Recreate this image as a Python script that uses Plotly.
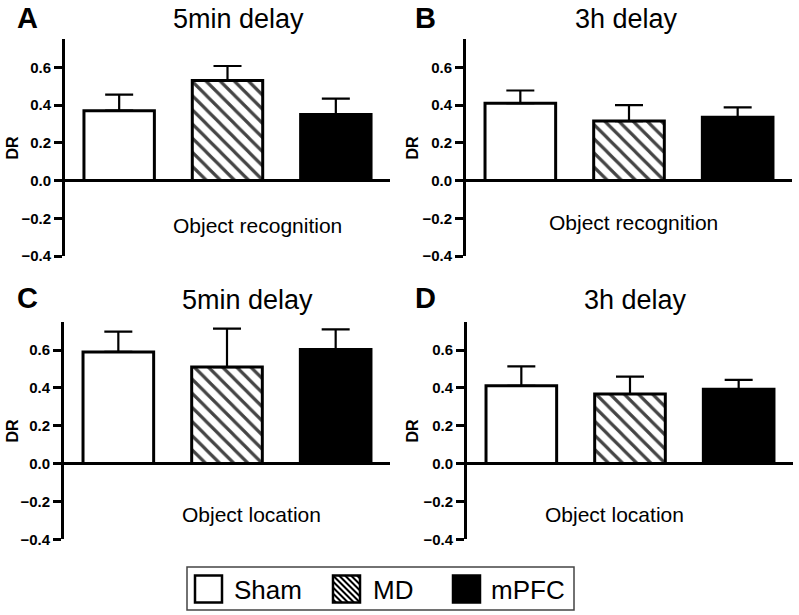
import plotly.graph_objects as go

W, H = 799, 615

groups = ["Sham", "MD", "mPFC"]
panel_letters = ["A", "B", "C", "D"]
panel_titles = ["5min delay", "3h delay", "5min delay", "3h delay"]
panel_tasks = ["Object recognition", "Object recognition", "Object location", "Object location"]

mean_A = [0.37, 0.53, 0.35]
sem_A = [0.085, 0.077, 0.084]
mean_B = [0.41, 0.315, 0.335]
sem_B = [0.067, 0.085, 0.053]
mean_C = [0.59, 0.51, 0.603]
sem_C = [0.108, 0.203, 0.106]
mean_D = [0.411, 0.368, 0.393]
sem_D = [0.103, 0.092, 0.05]

y_ticks = [-0.4, -0.2, 0.0, 0.2, 0.4, 0.6]
y_range = [-0.4, 0.75]

means = [mean_A, mean_B, mean_C, mean_D]
sems = [sem_A, sem_B, sem_C, sem_D]

bar_colors = ["white", "white", "black"]
bar_patterns = ["", "\\", ""]

FONT = "Arial, 'Liberation Sans', Helvetica, sans-serif"

def px(x):
    return x / W

def py(y):
    return 1 - y / H

# panel geometry in page pixels: (x0, x1, ytop, ybottom)
geom = [
    (65, 390, 39, 256),
    (466, 792, 39, 256),
    (64, 390, 321.7, 539.3),
    (467, 793, 321.7, 539.3),
]

fig = go.Figure()
layout = dict(
    width=W, height=H,
    margin=dict(l=0, r=0, t=0, b=0, pad=0, autoexpand=False),
    paper_bgcolor="white", plot_bgcolor="white",
    showlegend=False,
    font=dict(family=FONT, color="black"),
)

annotations = []
for i in range(4):
    xa = "x" if i == 0 else f"x{i+1}"
    ya = "y" if i == 0 else f"y{i+1}"
    fig.add_trace(go.Bar(
        x=[0, 1, 2], y=means[i],
        width=0.65,
        marker=dict(color=bar_colors,
                    line=dict(color="black", width=3),
                    pattern=dict(shape=bar_patterns, fgcolor=["black"] * 3,
                                 bgcolor=["white"] * 3, fgopacity=1,
                                 fillmode="overlay", size=10, solidity=0.32)),
        error_y=dict(type="data", array=sems[i], arrayminus=[0, 0, 0], symmetric=False,
                     color="black", thickness=2.2, width=14),
        xaxis=xa, yaxis=ya, hoverinfo="skip",
    ))
    x0, x1, yt, yb = geom[i]
    key = "" if i == 0 else str(i + 1)
    layout["xaxis" + key] = dict(
        domain=[px(x0), px(x1)], range=[-0.5, 2.5], anchor=ya,
        showticklabels=False, showline=False, showgrid=False, zeroline=False, ticks="",
        fixedrange=True, automargin=False,
    )
    layout["yaxis" + key] = dict(
        domain=[py(yb), py(yt)], range=y_range, anchor=xa,
        tickvals=y_ticks, tickformat=".1f",
        showline=True, linewidth=3, linecolor="black",
        ticks="outside", ticklen=8, tickwidth=2.5, tickcolor="black",
        tickfont=dict(size=15, family=FONT, color="black", weight="bold"),
        showgrid=False, zeroline=True, zerolinewidth=3, zerolinecolor="black",
        fixedrange=True, automargin=False,
    )
    # y axis title
    annotations.append(dict(
        text="<b>DR</b>", x=px(12 if i % 2 == 0 else 412), y=py((yt + yb) / 2),
        xref="paper", yref="paper", showarrow=False, textangle=-90,
        font=dict(size=16, family=FONT, color="black"),
        xanchor="center", yanchor="middle",
    ))

# panel letters, titles, task labels
letter_pos = [(27, 18), (425, 18), (27, 298), (425, 298)]
title_pos = [(238, 19), (626, 19), (247, 300), (635, 300)]
task_pos = [(257, 225), (633, 223), (251, 514), (614, 514)]
for i in range(4):
    annotations.append(dict(
        text=f"<b>{panel_letters[i]}</b>", x=px(letter_pos[i][0]), y=py(letter_pos[i][1]),
        xref="paper", yref="paper", showarrow=False,
        font=dict(size=29, family=FONT, color="black"), xanchor="center", yanchor="middle",
    ))
    annotations.append(dict(
        text=panel_titles[i], x=px(title_pos[i][0]), y=py(title_pos[i][1]),
        xref="paper", yref="paper", showarrow=False,
        font=dict(size=27, family=FONT, color="black"), xanchor="center", yanchor="middle",
    ))
    annotations.append(dict(
        text=panel_tasks[i], x=px(task_pos[i][0]), y=py(task_pos[i][1]),
        xref="paper", yref="paper", showarrow=False,
        font=dict(size=21, family=FONT, color="black"), xanchor="center", yanchor="middle",
    ))

# custom legend
shapes = []
shapes.append(dict(type="rect", xref="paper", yref="paper",
                   x0=px(187), x1=px(574), y0=py(610), y1=py(567),
                   line=dict(color="#444444", width=1.5), fillcolor="white"))
sw = 27
sw_y = 575.5
sw_x = [195, 333, 453]
txt_x = [232, 371, 489]
for k, g in enumerate(groups):
    sx = sw_x[k]
    fill = "black" if k == 2 else "white"
    shapes.append(dict(type="rect", xref="paper", yref="paper",
                       x0=px(sx), x1=px(sx + sw), y0=py(sw_y + sw), y1=py(sw_y),
                       line=dict(color="black", width=2.5), fillcolor=fill))
    if k == 1:
        d = 6.0
        c = -sw + d / 2
        path = ""
        while c < sw:
            xs = sx + max(0, c)
            ys = sw_y + max(0, -c)
            xe = sx + sw + min(0, c)
            ye = sw_y + sw - max(0, c)
            path += f"M{px(xs)},{py(ys)} L{px(xe)},{py(ye)} "
            c += d
        shapes.append(dict(type="path", xref="paper", yref="paper", path=path,
                           line=dict(color="black", width=2)))
    annotations.append(dict(
        text=g, x=px(txt_x[k]), y=py(sw_y + sw / 2 + 1),
        xref="paper", yref="paper", showarrow=False,
        font=dict(size=26, family=FONT, color="black"), xanchor="left", yanchor="middle",
    ))

layout["annotations"] = annotations
layout["shapes"] = shapes
fig.update_layout(**layout)

fig.write_html("out.html", config={"displayModeBar": False},
               post_script="document.body.style.margin='0px';")
